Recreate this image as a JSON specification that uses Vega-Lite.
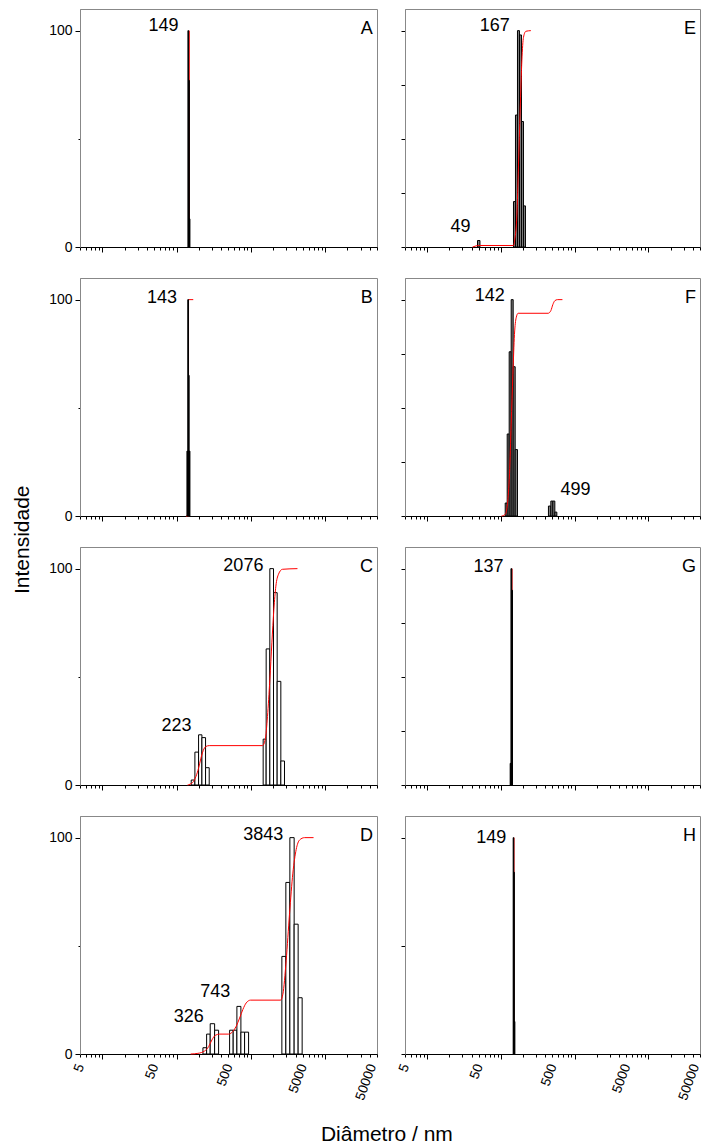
{
  "$schema": "https://vega.github.io/schema/vega-lite/v6.json",
  "padding": {"left": 12, "top": 8, "right": 3, "bottom": 0},
  "config": {
    "font": "Liberation Sans",
    "view": {"stroke": "#888888", "strokeWidth": 1},
    "axis": {"grid": false, "labelColor": "black", "tickColor": "black", "labelFontSize": 14},
    "title": {"fontSize": 21, "fontWeight": "normal", "color": "black"}
  },
  "datasets": {
    "bins": [
      {"panel": "A", "d0": 142.1, "d1": 145.0, "intensity": 100},
      {"panel": "A", "d0": 145.0, "d1": 148.5, "intensity": 77},
      {"panel": "A", "d0": 148.5, "d1": 151.2, "intensity": 13},
      {"panel": "B", "d0": 137.8, "d1": 141.5, "intensity": 30},
      {"panel": "B", "d0": 141.5, "d1": 144.5, "intensity": 100},
      {"panel": "B", "d0": 144.5, "d1": 147.5, "intensity": 65},
      {"panel": "B", "d0": 147.5, "d1": 151.2, "intensity": 30},
      {"panel": "C", "d0": 157.4, "d1": 176.4, "intensity": 2.3},
      {"panel": "C", "d0": 176.4, "d1": 197.6, "intensity": 15.2},
      {"panel": "C", "d0": 197.6, "d1": 219.2, "intensity": 23.2},
      {"panel": "C", "d0": 219.2, "d1": 245.4, "intensity": 21.9},
      {"panel": "C", "d0": 245.4, "d1": 274.9, "intensity": 8.0},
      {"panel": "C", "d0": 1465, "d1": 1608, "intensity": 21.2},
      {"panel": "C", "d0": 1608, "d1": 1802, "intensity": 62.9},
      {"panel": "C", "d0": 1802, "d1": 2019, "intensity": 100},
      {"panel": "C", "d0": 2019, "d1": 2261, "intensity": 88.9},
      {"panel": "C", "d0": 2261, "d1": 2534, "intensity": 47.9},
      {"panel": "C", "d0": 2534, "d1": 2839, "intensity": 11.1},
      {"panel": "D", "d0": 226.2, "d1": 253.7, "intensity": 2.9},
      {"panel": "D", "d0": 253.7, "d1": 283.6, "intensity": 9.2},
      {"panel": "D", "d0": 283.6, "d1": 325.1, "intensity": 14.0},
      {"panel": "D", "d0": 325.1, "d1": 367.9, "intensity": 11.0},
      {"panel": "D", "d0": 517.5, "d1": 578.4, "intensity": 11.0},
      {"panel": "D", "d0": 578.4, "d1": 648.8, "intensity": 11.0},
      {"panel": "D", "d0": 648.8, "d1": 734.4, "intensity": 22.0},
      {"panel": "D", "d0": 734.4, "d1": 823.6, "intensity": 10.1},
      {"panel": "D", "d0": 823.6, "d1": 932.2, "intensity": 10.1},
      {"panel": "D", "d0": 2616, "d1": 2961, "intensity": 45.1},
      {"panel": "D", "d0": 2961, "d1": 3353, "intensity": 79.3},
      {"panel": "D", "d0": 3353, "d1": 3830, "intensity": 100},
      {"panel": "D", "d0": 3830, "d1": 4336, "intensity": 60.0},
      {"panel": "D", "d0": 4336, "d1": 4908, "intensity": 26.0},
      {"panel": "E", "d0": 48.1, "d1": 51.9, "intensity": 3.0},
      {"panel": "E", "d0": 147.9, "d1": 157.4, "intensity": 21},
      {"panel": "E", "d0": 157.4, "d1": 167.5, "intensity": 61},
      {"panel": "E", "d0": 167.5, "d1": 178.3, "intensity": 100},
      {"panel": "E", "d0": 178.3, "d1": 189.8, "intensity": 98},
      {"panel": "E", "d0": 189.8, "d1": 202.0, "intensity": 58},
      {"panel": "E", "d0": 202.0, "d1": 215.0, "intensity": 19},
      {"panel": "F", "d0": 114.2, "d1": 121.5, "intensity": 6.0},
      {"panel": "F", "d0": 121.5, "d1": 129.3, "intensity": 37.9},
      {"panel": "F", "d0": 129.3, "d1": 137.6, "intensity": 75.9},
      {"panel": "F", "d0": 137.6, "d1": 146.5, "intensity": 100},
      {"panel": "F", "d0": 146.5, "d1": 155.9, "intensity": 69.0},
      {"panel": "F", "d0": 155.9, "d1": 167.5, "intensity": 30.7},
      {"panel": "F", "d0": 440.6, "d1": 474.8, "intensity": 4.6},
      {"panel": "F", "d0": 474.8, "d1": 505.3, "intensity": 6.9},
      {"panel": "F", "d0": 505.3, "d1": 537.8, "intensity": 6.9},
      {"panel": "F", "d0": 537.8, "d1": 572.5, "intensity": 1.8},
      {"panel": "G", "d0": 133.4, "d1": 136.7, "intensity": 10},
      {"panel": "G", "d0": 136.7, "d1": 140.0, "intensity": 100},
      {"panel": "G", "d0": 140.0, "d1": 143.4, "intensity": 90},
      {"panel": "H", "d0": 146.5, "d1": 149.2, "intensity": 100},
      {"panel": "H", "d0": 149.2, "d1": 151.8, "intensity": 84},
      {"panel": "H", "d0": 151.8, "d1": 154.5, "intensity": 15}
    ],
    "cumulative": [
      {"panel": "A", "d": 148.3, "pct": 0},
      {"panel": "A", "d": 148.3, "pct": 100},
      {"panel": "B", "d": 133.7, "pct": 0},
      {"panel": "B", "d": 144.8, "pct": 0},
      {"panel": "B", "d": 144.8, "pct": 100},
      {"panel": "B", "d": 167.6, "pct": 100},
      {"panel": "C", "d": 140.3, "pct": 0},
      {"panel": "C", "d": 163.9, "pct": 1.1},
      {"panel": "C", "d": 182, "pct": 3.9},
      {"panel": "C", "d": 197.4, "pct": 7.7},
      {"panel": "C", "d": 212.6, "pct": 12.4},
      {"panel": "C", "d": 228.2, "pct": 15.9},
      {"panel": "C", "d": 248.2, "pct": 17.8},
      {"panel": "C", "d": 274.9, "pct": 18.2},
      {"panel": "C", "d": 1434, "pct": 18.2},
      {"panel": "C", "d": 1560, "pct": 20.9},
      {"panel": "C", "d": 1675, "pct": 31.7},
      {"panel": "C", "d": 1803, "pct": 48.7},
      {"panel": "C", "d": 1919, "pct": 65.7},
      {"panel": "C", "d": 2041, "pct": 81.1},
      {"panel": "C", "d": 2172, "pct": 91.9},
      {"panel": "C", "d": 2355, "pct": 97.4},
      {"panel": "C", "d": 2666, "pct": 99.7},
      {"panel": "C", "d": 4243, "pct": 100},
      {"panel": "D", "d": 154.5, "pct": 0},
      {"panel": "D", "d": 193.7, "pct": 0.3},
      {"panel": "D", "d": 238.5, "pct": 1.4},
      {"panel": "D", "d": 269.9, "pct": 3.4},
      {"panel": "D", "d": 298.9, "pct": 6.5},
      {"panel": "D", "d": 331.1, "pct": 8.6},
      {"panel": "D", "d": 379.5, "pct": 9.2},
      {"panel": "D", "d": 501.5, "pct": 9.2},
      {"panel": "D", "d": 573, "pct": 10.4},
      {"panel": "D", "d": 634.7, "pct": 12.8},
      {"panel": "D", "d": 705.3, "pct": 16.6},
      {"panel": "D", "d": 781.2, "pct": 20.6},
      {"panel": "D", "d": 865.6, "pct": 23.6},
      {"panel": "D", "d": 992, "pct": 24.9},
      {"panel": "D", "d": 2512, "pct": 24.9},
      {"panel": "D", "d": 2698, "pct": 27.6},
      {"panel": "D", "d": 2989, "pct": 43.1},
      {"panel": "D", "d": 3321, "pct": 65},
      {"panel": "D", "d": 3680, "pct": 83.6},
      {"panel": "D", "d": 4077, "pct": 94.5},
      {"panel": "D", "d": 4529, "pct": 98.9},
      {"panel": "D", "d": 5285, "pct": 100},
      {"panel": "D", "d": 6990, "pct": 100},
      {"panel": "E", "d": 41.2, "pct": 0},
      {"panel": "E", "d": 45.8, "pct": 0.5},
      {"panel": "E", "d": 50.7, "pct": 0.7},
      {"panel": "E", "d": 147.9, "pct": 0.7},
      {"panel": "E", "d": 154.5, "pct": 3.8},
      {"panel": "E", "d": 164.4, "pct": 14.5},
      {"panel": "E", "d": 172.8, "pct": 37.4},
      {"panel": "E", "d": 182.3, "pct": 63.4},
      {"panel": "E", "d": 192.2, "pct": 86.3},
      {"panel": "E", "d": 202, "pct": 96.9},
      {"panel": "E", "d": 217.6, "pct": 99.7},
      {"panel": "E", "d": 254.4, "pct": 100},
      {"panel": "F", "d": 101.7, "pct": 0},
      {"panel": "F", "d": 114.2, "pct": 0.7},
      {"panel": "F", "d": 122.6, "pct": 5.7},
      {"panel": "F", "d": 130.6, "pct": 19.5},
      {"panel": "F", "d": 137.6, "pct": 42.5},
      {"panel": "F", "d": 145.2, "pct": 65.5},
      {"panel": "F", "d": 152.5, "pct": 83.9},
      {"panel": "F", "d": 160.8, "pct": 91.6},
      {"panel": "F", "d": 171.2, "pct": 93.7},
      {"panel": "F", "d": 436.5, "pct": 93.7},
      {"panel": "F", "d": 474.8, "pct": 94.9},
      {"panel": "F", "d": 505.3, "pct": 97.7},
      {"panel": "F", "d": 537.8, "pct": 99.5},
      {"panel": "F", "d": 583.4, "pct": 100},
      {"panel": "F", "d": 681.7, "pct": 100},
      {"panel": "G", "d": 141.5, "pct": 0},
      {"panel": "G", "d": 141.5, "pct": 100},
      {"panel": "H", "d": 150.5, "pct": 0},
      {"panel": "H", "d": 150.5, "pct": 100}
    ],
    "peaks": [
      {"panel": "A", "label": "149", "d": 149, "pct": 100},
      {"panel": "B", "label": "143", "d": 143, "pct": 98.6},
      {"panel": "C", "label": "2076", "d": 2076, "pct": 98.9},
      {"panel": "C", "label": "223", "d": 223, "pct": 25},
      {"panel": "D", "label": "3843", "d": 3843, "pct": 99},
      {"panel": "D", "label": "743", "d": 743, "pct": 26.4},
      {"panel": "D", "label": "326", "d": 326, "pct": 14.6},
      {"panel": "E", "label": "167", "d": 167, "pct": 100},
      {"panel": "E", "label": "49", "d": 49, "pct": 6.9},
      {"panel": "F", "label": "142", "d": 142, "pct": 99.5},
      {"panel": "F", "label": "499", "d": 499, "pct": 9.5},
      {"panel": "G", "label": "137", "d": 137, "pct": 98.6},
      {"panel": "H", "label": "149", "d": 149, "pct": 97.7}
    ]
  },
  "title": {"text": "Intensidade", "orient": "left", "anchor": "middle", "offset": 15, "dx": 37},
  "vconcat": [
    {
      "title": {"text": "Diâmetro / nm", "orient": "bottom", "anchor": "middle", "offset": 22, "dx": 12},
      "columns": 2,
      "bounds": "flush",
      "spacing": {"row": 31, "column": 28},
      "concat": [
        {
          "width": 297, "height": 238,
          "layer": [
            {"data": {"name": "cumulative"}, "transform": [{"filter": "datum.panel === 'A'"}],
             "mark": {"type": "line", "color": "#ff0000", "strokeWidth": 1},
             "encoding": {
               "x": {"field": "d", "type": "quantitative", "title": null, "scale": {"type": "log", "domain": [5, 50000], "nice": false}},
               "y": {"field": "pct", "type": "quantitative", "title": null, "scale": {"domain": [0, 110], "nice": false}}}},
            {"data": {"name": "bins"}, "transform": [{"filter": "datum.panel === 'A'"}],
             "mark": {"type": "rect", "fill": "black", "stroke": "black", "strokeWidth": 1},
             "encoding": {
               "x": {"field": "d0", "type": "quantitative", "title": null, "scale": {"type": "log", "domain": [5, 50000], "nice": false},
                     "axis": {"labels": false, "values": [5,6,7,8,9,10,20,30,40,50,60,70,80,90,100,200,300,400,500,600,700,800,900,1000,2000,3000,4000,5000,6000,7000,8000,9000,10000,20000,30000,40000,50000], "tickSize": {"condition": {"test": "indexof([10,100,1000,10000], datum.value) >= 0", "value": 5}, "value": 3}, "domainColor": "black"}},
               "x2": {"field": "d1"},
               "y": {"field": "intensity", "type": "quantitative", "title": null, "scale": {"domain": [0, 110], "nice": false},
                     "axis": {"values": [0, 50, 100], "labelExpr": "datum.value === 50 ? '' : datum.label", "tickSize": {"condition": {"test": "datum.value === 50", "value": 2}, "value": 5}, "labelPadding": 3, "domainColor": "#888888"}},
               "y2": {"datum": 0}}},
            {"data": {"name": "peaks"}, "transform": [{"filter": "datum.panel === 'A'"}],
             "mark": {"type": "text", "align": "right", "baseline": "alphabetic", "dx": -11, "fontSize": 18},
             "encoding": {"x": {"field": "d", "type": "quantitative", "title": null}, "y": {"field": "pct", "type": "quantitative", "title": null}, "text": {"field": "label"}}},
            {"data": {"values": [{"letter": "A"}]},
             "mark": {"type": "text", "align": "right", "baseline": "alphabetic", "fontSize": 18},
             "encoding": {"x": {"datum": 44000, "type": "quantitative", "title": null}, "y": {"datum": 98.5, "type": "quantitative", "title": null}, "text": {"field": "letter"}}}
          ]
        },
        {
          "width": 295, "height": 238,
          "layer": [
            {"data": {"name": "bins"}, "transform": [{"filter": "datum.panel === 'E'"}],
             "mark": {"type": "rect", "fill": "#808080", "stroke": "black", "strokeWidth": 1},
             "encoding": {
               "x": {"field": "d0", "type": "quantitative", "title": null, "scale": {"type": "log", "domain": [5, 50000], "nice": false},
                     "axis": {"labels": false, "values": [5,6,7,8,9,10,20,30,40,50,60,70,80,90,100,200,300,400,500,600,700,800,900,1000,2000,3000,4000,5000,6000,7000,8000,9000,10000,20000,30000,40000,50000], "tickSize": {"condition": {"test": "indexof([10,100,1000,10000], datum.value) >= 0", "value": 5}, "value": 3}, "domainColor": "black"}},
               "x2": {"field": "d1"},
               "y": {"field": "intensity", "type": "quantitative", "title": null, "scale": {"domain": [0, 110], "nice": false},
                     "axis": {"values": [0, 25, 50, 75, 100], "labels": false, "tickSize": 4, "domainColor": "#888888"}},
               "y2": {"datum": 0}}},
            {"data": {"name": "cumulative"}, "transform": [{"filter": "datum.panel === 'E'"}],
             "mark": {"type": "line", "color": "#ff0000", "strokeWidth": 1, "interpolate": "monotone"},
             "encoding": {"x": {"field": "d", "type": "quantitative", "title": null}, "y": {"field": "pct", "type": "quantitative", "title": null}}},
            {"data": {"name": "peaks"}, "transform": [{"filter": "datum.panel === 'E'"}],
             "mark": {"type": "text", "align": "right", "baseline": "alphabetic", "dx": -7.5, "fontSize": 18},
             "encoding": {"x": {"field": "d", "type": "quantitative", "title": null}, "y": {"field": "pct", "type": "quantitative", "title": null}, "text": {"field": "label"}}},
            {"data": {"values": [{"letter": "E"}]},
             "mark": {"type": "text", "align": "right", "baseline": "alphabetic", "fontSize": 18},
             "encoding": {"x": {"datum": 44000, "type": "quantitative", "title": null}, "y": {"datum": 98.5, "type": "quantitative", "title": null}, "text": {"field": "letter"}}}
          ]
        },
        {
          "width": 297, "height": 238,
          "layer": [
            {"data": {"name": "cumulative"}, "transform": [{"filter": "datum.panel === 'B'"}],
             "mark": {"type": "line", "color": "#ff0000", "strokeWidth": 1},
             "encoding": {
               "x": {"field": "d", "type": "quantitative", "title": null, "scale": {"type": "log", "domain": [5, 50000], "nice": false}},
               "y": {"field": "pct", "type": "quantitative", "title": null, "scale": {"domain": [0, 110], "nice": false}}}},
            {"data": {"name": "bins"}, "transform": [{"filter": "datum.panel === 'B'"}],
             "mark": {"type": "rect", "fill": "black", "stroke": "black", "strokeWidth": 1},
             "encoding": {
               "x": {"field": "d0", "type": "quantitative", "title": null, "scale": {"type": "log", "domain": [5, 50000], "nice": false},
                     "axis": {"labels": false, "values": [5,6,7,8,9,10,20,30,40,50,60,70,80,90,100,200,300,400,500,600,700,800,900,1000,2000,3000,4000,5000,6000,7000,8000,9000,10000,20000,30000,40000,50000], "tickSize": {"condition": {"test": "indexof([10,100,1000,10000], datum.value) >= 0", "value": 5}, "value": 3}, "domainColor": "black"}},
               "x2": {"field": "d1"},
               "y": {"field": "intensity", "type": "quantitative", "title": null, "scale": {"domain": [0, 110], "nice": false},
                     "axis": {"values": [0, 50, 100], "labelExpr": "datum.value === 50 ? '' : datum.label", "tickSize": {"condition": {"test": "datum.value === 50", "value": 2}, "value": 5}, "labelPadding": 3, "domainColor": "#888888"}},
               "y2": {"datum": 0}}},
            {"data": {"name": "peaks"}, "transform": [{"filter": "datum.panel === 'B'"}],
             "mark": {"type": "text", "align": "right", "baseline": "alphabetic", "dx": -11, "fontSize": 18},
             "encoding": {"x": {"field": "d", "type": "quantitative", "title": null}, "y": {"field": "pct", "type": "quantitative", "title": null}, "text": {"field": "label"}}},
            {"data": {"values": [{"letter": "B"}]},
             "mark": {"type": "text", "align": "right", "baseline": "alphabetic", "fontSize": 18},
             "encoding": {"x": {"datum": 44000, "type": "quantitative", "title": null}, "y": {"datum": 98.5, "type": "quantitative", "title": null}, "text": {"field": "letter"}}}
          ]
        },
        {
          "width": 295, "height": 238,
          "layer": [
            {"data": {"name": "bins"}, "transform": [{"filter": "datum.panel === 'F'"}],
             "mark": {"type": "rect", "fill": "#808080", "stroke": "black", "strokeWidth": 1},
             "encoding": {
               "x": {"field": "d0", "type": "quantitative", "title": null, "scale": {"type": "log", "domain": [5, 50000], "nice": false},
                     "axis": {"labels": false, "values": [5,6,7,8,9,10,20,30,40,50,60,70,80,90,100,200,300,400,500,600,700,800,900,1000,2000,3000,4000,5000,6000,7000,8000,9000,10000,20000,30000,40000,50000], "tickSize": {"condition": {"test": "indexof([10,100,1000,10000], datum.value) >= 0", "value": 5}, "value": 3}, "domainColor": "black"}},
               "x2": {"field": "d1"},
               "y": {"field": "intensity", "type": "quantitative", "title": null, "scale": {"domain": [0, 110], "nice": false},
                     "axis": {"values": [0, 25, 50, 75, 100], "labels": false, "tickSize": 4, "domainColor": "#888888"}},
               "y2": {"datum": 0}}},
            {"data": {"name": "cumulative"}, "transform": [{"filter": "datum.panel === 'F'"}],
             "mark": {"type": "line", "color": "#ff0000", "strokeWidth": 1, "interpolate": "monotone"},
             "encoding": {"x": {"field": "d", "type": "quantitative", "title": null}, "y": {"field": "pct", "type": "quantitative", "title": null}}},
            {"data": {"name": "peaks"}, "transform": [{"filter": "datum.panel === 'F' && datum.label !== '499'"}],
             "mark": {"type": "text", "align": "right", "baseline": "alphabetic", "dx": -7.5, "fontSize": 18},
             "encoding": {"x": {"field": "d", "type": "quantitative", "title": null}, "y": {"field": "pct", "type": "quantitative", "title": null}, "text": {"field": "label"}}},
            {"data": {"name": "peaks"}, "transform": [{"filter": "datum.panel === 'F' && datum.label === '499'"}],
             "mark": {"type": "text", "align": "left", "baseline": "alphabetic", "dx": 8, "fontSize": 18},
             "encoding": {"x": {"field": "d", "type": "quantitative", "title": null}, "y": {"field": "pct", "type": "quantitative", "title": null}, "text": {"field": "label"}}},
            {"data": {"values": [{"letter": "F"}]},
             "mark": {"type": "text", "align": "right", "baseline": "alphabetic", "fontSize": 18},
             "encoding": {"x": {"datum": 44000, "type": "quantitative", "title": null}, "y": {"datum": 98.5, "type": "quantitative", "title": null}, "text": {"field": "letter"}}}
          ]
        },
        {
          "width": 297, "height": 238,
          "layer": [
            {"data": {"name": "bins"}, "transform": [{"filter": "datum.panel === 'C'"}],
             "mark": {"type": "rect", "fill": "white", "stroke": "black", "strokeWidth": 1},
             "encoding": {
               "x": {"field": "d0", "type": "quantitative", "title": null, "scale": {"type": "log", "domain": [5, 50000], "nice": false},
                     "axis": {"labels": false, "values": [5,6,7,8,9,10,20,30,40,50,60,70,80,90,100,200,300,400,500,600,700,800,900,1000,2000,3000,4000,5000,6000,7000,8000,9000,10000,20000,30000,40000,50000], "tickSize": {"condition": {"test": "indexof([10,100,1000,10000], datum.value) >= 0", "value": 5}, "value": 3}, "domainColor": "black"}},
               "x2": {"field": "d1"},
               "y": {"field": "intensity", "type": "quantitative", "title": null, "scale": {"domain": [0, 110], "nice": false},
                     "axis": {"values": [0, 50, 100], "labelExpr": "datum.value === 50 ? '' : datum.label", "tickSize": {"condition": {"test": "datum.value === 50", "value": 2}, "value": 5}, "labelPadding": 3, "domainColor": "#888888"}},
               "y2": {"datum": 0}}},
            {"data": {"name": "cumulative"}, "transform": [{"filter": "datum.panel === 'C'"}],
             "mark": {"type": "line", "color": "#ff0000", "strokeWidth": 1, "interpolate": "monotone"},
             "encoding": {"x": {"field": "d", "type": "quantitative", "title": null}, "y": {"field": "pct", "type": "quantitative", "title": null}}},
            {"data": {"name": "peaks"}, "transform": [{"filter": "datum.panel === 'C'"}],
             "mark": {"type": "text", "align": "right", "baseline": "alphabetic", "dx": -11, "fontSize": 18},
             "encoding": {"x": {"field": "d", "type": "quantitative", "title": null}, "y": {"field": "pct", "type": "quantitative", "title": null}, "text": {"field": "label"}}},
            {"data": {"values": [{"letter": "C"}]},
             "mark": {"type": "text", "align": "right", "baseline": "alphabetic", "fontSize": 18},
             "encoding": {"x": {"datum": 44000, "type": "quantitative", "title": null}, "y": {"datum": 98.5, "type": "quantitative", "title": null}, "text": {"field": "letter"}}}
          ]
        },
        {
          "width": 295, "height": 238,
          "layer": [
            {"data": {"name": "cumulative"}, "transform": [{"filter": "datum.panel === 'G'"}],
             "mark": {"type": "line", "color": "#ff0000", "strokeWidth": 1},
             "encoding": {
               "x": {"field": "d", "type": "quantitative", "title": null, "scale": {"type": "log", "domain": [5, 50000], "nice": false}},
               "y": {"field": "pct", "type": "quantitative", "title": null, "scale": {"domain": [0, 110], "nice": false}}}},
            {"data": {"name": "bins"}, "transform": [{"filter": "datum.panel === 'G'"}],
             "mark": {"type": "rect", "fill": "black", "stroke": "black", "strokeWidth": 1},
             "encoding": {
               "x": {"field": "d0", "type": "quantitative", "title": null, "scale": {"type": "log", "domain": [5, 50000], "nice": false},
                     "axis": {"labels": false, "values": [5,6,7,8,9,10,20,30,40,50,60,70,80,90,100,200,300,400,500,600,700,800,900,1000,2000,3000,4000,5000,6000,7000,8000,9000,10000,20000,30000,40000,50000], "tickSize": {"condition": {"test": "indexof([10,100,1000,10000], datum.value) >= 0", "value": 5}, "value": 3}, "domainColor": "black"}},
               "x2": {"field": "d1"},
               "y": {"field": "intensity", "type": "quantitative", "title": null, "scale": {"domain": [0, 110], "nice": false},
                     "axis": {"values": [0, 25, 50, 75, 100], "labels": false, "tickSize": 4, "domainColor": "#888888"}},
               "y2": {"datum": 0}}},
            {"data": {"name": "peaks"}, "transform": [{"filter": "datum.panel === 'G'"}],
             "mark": {"type": "text", "align": "right", "baseline": "alphabetic", "dx": -7.5, "fontSize": 18},
             "encoding": {"x": {"field": "d", "type": "quantitative", "title": null}, "y": {"field": "pct", "type": "quantitative", "title": null}, "text": {"field": "label"}}},
            {"data": {"values": [{"letter": "G"}]},
             "mark": {"type": "text", "align": "right", "baseline": "alphabetic", "fontSize": 18},
             "encoding": {"x": {"datum": 44000, "type": "quantitative", "title": null}, "y": {"datum": 98.5, "type": "quantitative", "title": null}, "text": {"field": "letter"}}}
          ]
        },
        {
          "width": 297, "height": 238,
          "layer": [
            {"data": {"name": "bins"}, "transform": [{"filter": "datum.panel === 'D'"}],
             "mark": {"type": "rect", "fill": "white", "stroke": "black", "strokeWidth": 1},
             "encoding": {
               "x": {"field": "d0", "type": "quantitative", "title": null, "scale": {"type": "log", "domain": [5, 50000], "nice": false},
                     "axis": {"values": [5,6,7,8,9,10,20,30,40,50,60,70,80,90,100,200,300,400,500,600,700,800,900,1000,2000,3000,4000,5000,6000,7000,8000,9000,10000,20000,30000,40000,50000], "labelExpr": "indexof([5,50,500,5000,50000], datum.value) >= 0 ? format(datum.value, 'd') : ''", "labelAngle": -70, "labelFontSize": 13.5, "labelOverlap": false, "labelFlush": false, "labelPadding": 7, "labelOffset": {"condition": {"test": "datum.value === 50000", "value": -5}, "value": 0}, "tickSize": {"condition": {"test": "indexof([10,100,1000,10000], datum.value) >= 0", "value": 5}, "value": 3}, "domainColor": "black"}},
               "x2": {"field": "d1"},
               "y": {"field": "intensity", "type": "quantitative", "title": null, "scale": {"domain": [0, 110], "nice": false},
                     "axis": {"values": [0, 50, 100], "labelExpr": "datum.value === 50 ? '' : datum.label", "tickSize": {"condition": {"test": "datum.value === 50", "value": 2}, "value": 5}, "labelPadding": 3, "domainColor": "#888888"}},
               "y2": {"datum": 0}}},
            {"data": {"name": "cumulative"}, "transform": [{"filter": "datum.panel === 'D'"}],
             "mark": {"type": "line", "color": "#ff0000", "strokeWidth": 1, "interpolate": "monotone"},
             "encoding": {"x": {"field": "d", "type": "quantitative", "title": null}, "y": {"field": "pct", "type": "quantitative", "title": null}}},
            {"data": {"name": "peaks"}, "transform": [{"filter": "datum.panel === 'D'"}],
             "mark": {"type": "text", "align": "right", "baseline": "alphabetic", "dx": -11, "fontSize": 18},
             "encoding": {"x": {"field": "d", "type": "quantitative", "title": null}, "y": {"field": "pct", "type": "quantitative", "title": null}, "text": {"field": "label"}}},
            {"data": {"values": [{"letter": "D"}]},
             "mark": {"type": "text", "align": "right", "baseline": "alphabetic", "fontSize": 18},
             "encoding": {"x": {"datum": 44000, "type": "quantitative", "title": null}, "y": {"datum": 98.5, "type": "quantitative", "title": null}, "text": {"field": "letter"}}}
          ]
        },
        {
          "width": 295, "height": 238,
          "layer": [
            {"data": {"name": "cumulative"}, "transform": [{"filter": "datum.panel === 'H'"}],
             "mark": {"type": "line", "color": "#ff0000", "strokeWidth": 1},
             "encoding": {
               "x": {"field": "d", "type": "quantitative", "title": null, "scale": {"type": "log", "domain": [5, 50000], "nice": false}},
               "y": {"field": "pct", "type": "quantitative", "title": null, "scale": {"domain": [0, 110], "nice": false}}}},
            {"data": {"name": "bins"}, "transform": [{"filter": "datum.panel === 'H'"}],
             "mark": {"type": "rect", "fill": "black", "stroke": "black", "strokeWidth": 1},
             "encoding": {
               "x": {"field": "d0", "type": "quantitative", "title": null, "scale": {"type": "log", "domain": [5, 50000], "nice": false},
                     "axis": {"values": [5,6,7,8,9,10,20,30,40,50,60,70,80,90,100,200,300,400,500,600,700,800,900,1000,2000,3000,4000,5000,6000,7000,8000,9000,10000,20000,30000,40000,50000], "labelExpr": "indexof([5,50,500,5000,50000], datum.value) >= 0 ? format(datum.value, 'd') : ''", "labelAngle": -70, "labelFontSize": 13.5, "labelOverlap": false, "labelFlush": false, "labelPadding": 7, "labelOffset": {"condition": {"test": "datum.value === 50000", "value": -5}, "value": 0}, "tickSize": {"condition": {"test": "indexof([10,100,1000,10000], datum.value) >= 0", "value": 5}, "value": 3}, "domainColor": "black"}},
               "x2": {"field": "d1"},
               "y": {"field": "intensity", "type": "quantitative", "title": null, "scale": {"domain": [0, 110], "nice": false},
                     "axis": {"values": [0, 50, 100], "labels": false, "tickSize": 4, "domainColor": "#888888"}},
               "y2": {"datum": 0}}},
            {"data": {"name": "peaks"}, "transform": [{"filter": "datum.panel === 'H'"}],
             "mark": {"type": "text", "align": "right", "baseline": "alphabetic", "dx": -7.5, "fontSize": 18},
             "encoding": {"x": {"field": "d", "type": "quantitative", "title": null}, "y": {"field": "pct", "type": "quantitative", "title": null}, "text": {"field": "label"}}},
            {"data": {"values": [{"letter": "H"}]},
             "mark": {"type": "text", "align": "right", "baseline": "alphabetic", "fontSize": 18},
             "encoding": {"x": {"datum": 44000, "type": "quantitative", "title": null}, "y": {"datum": 98.5, "type": "quantitative", "title": null}, "text": {"field": "letter"}}}
          ]
        }
      ]
    }
  ]
}
